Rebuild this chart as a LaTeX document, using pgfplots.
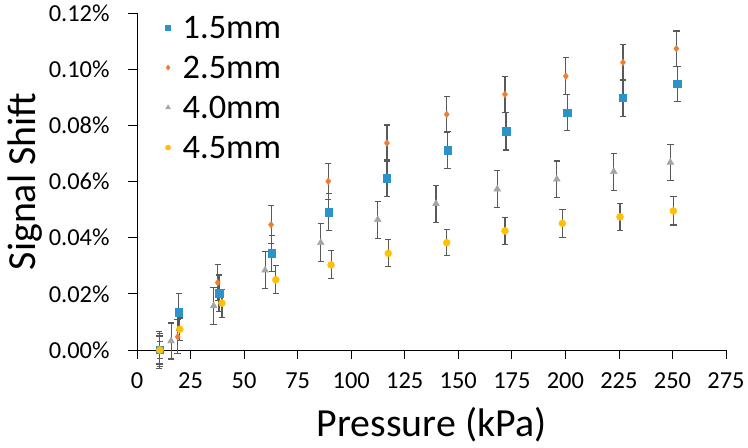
\documentclass[border=0pt]{standalone}
\usepackage{pgfplots}
\pgfplotsset{compat=1.18}
\usepackage{fontspec}
\setmainfont{Carlito}
\definecolor{cblue}{HTML}{2A93C9}
\definecolor{corange}{HTML}{ED7D31}
\definecolor{cgray}{HTML}{A5A5A5}
\definecolor{cyellow}{HTML}{FFC000}
\definecolor{errc}{HTML}{595959}
\begin{document}
\begin{tikzpicture}[x=1bp,y=1bp]
\begin{axis}[
  at={(0,0)}, anchor=south west,
  scale only axis, width=589bp, height=337bp,
  xmin=0, xmax=275, ymin=0, ymax=0.12,
  xtick={0,25,...,275},
  ytick={0,0.02,0.04,0.06,0.08,0.10,0.12},
  axis x line=bottom, axis y line=left,
  axis line style={-, black, line width=0.8bp},
  tick style={black, line width=0.8bp},
  tick align=outside, major tick length=9bp,
  /pgf/number format/assume math mode=true,
  ticklabel style={font=\fontsize{24.5}{29}\selectfont},
  yticklabel={\pgfmathprintnumber[fixed,fixed zerofill,precision=2]{\tick}\%},
  xticklabel style={yshift=-10bp},
  yticklabel style={xshift=-15bp},
  xlabel={Pressure (kPa)}, ylabel={Signal Shift},
  label style={font=\fontsize{40}{48}\selectfont},
  xlabel style={yshift=-12bp},
  ylabel style={yshift=0bp},
  legend style={draw=none, fill=none, at={(0.048,0.99)}, anchor=north west,
    font=\fontsize{34.5}{40}\selectfont, row sep=18bp, inner sep=0pt,
    nodes={inner ysep=0pt, text height=22bp, text depth=0bp},
    /tikz/every odd column/.append style={column sep=10bp}},
  legend cell align=left,
  error bars/error bar style={errc, line width=1.1bp},
  error bars/error mark options={rotate=90, errc, mark size=3.2bp, line width=1.1bp},
  clip=false,
]
\addplot[only marks, mark=square*, mark size=3.7bp, color=cblue,
  legend image post style={mark size=2.6bp},
  error bars/.cd, y dir=both, y explicit] coordinates {
(10.7,0.0000) +- (0,0.0060)
(19.5,0.0134) +- (0,0.0066)
(38.3,0.0202) +- (0,0.0065)
(63.0,0.0344) +- (0,0.0065)
(89.6,0.0491) +- (0,0.0065)
(116.7,0.0612) +- (0,0.0067)
(145.0,0.0711) +- (0,0.0066)
(172.3,0.0779) +- (0,0.0067)
(200.8,0.0846) +- (0,0.0064)
(226.9,0.0898) +- (0,0.0065)
(252.3,0.0948) +- (0,0.0063)
};
\addlegendentry{1.5mm}
\addplot[only marks, mark=diamond*, mark size=3.4bp, color=corange,
  legend image post style={mark size=2.6bp},
  error bars/.cd, y dir=both, y explicit] coordinates {
(10.5,0.0000) +- (0,0.0050)
(19.0,0.0047) +- (0,0.0060)
(37.7,0.0240) +- (0,0.0064)
(62.6,0.0446) +- (0,0.0068)
(89.3,0.0601) +- (0,0.0064)
(116.7,0.0737) +- (0,0.0064)
(144.6,0.0839) +- (0,0.0064)
(171.8,0.0910) +- (0,0.0065)
(200.2,0.0975) +- (0,0.0065)
(226.9,0.1024) +- (0,0.0065)
(251.8,0.1073) +- (0,0.0063)
};
\addlegendentry{2.5mm}
\addplot[only marks, mark=triangle*, mark size=4bp, color=cgray,
  legend image post style={mark size=2.8bp},
  error bars/.cd, y dir=both, y explicit] coordinates {
(10.3,0.0000) +- (0,0.0065)
(15.9,0.0032) +- (0,0.0064)
(35.8,0.0157) +- (0,0.0066)
(59.8,0.0284) +- (0,0.0066)
(85.8,0.0382) +- (0,0.0068)
(112.4,0.0464) +- (0,0.0066)
(139.6,0.0521) +- (0,0.0066)
(168.2,0.0573) +- (0,0.0065)
(196.0,0.0608) +- (0,0.0065)
(222.6,0.0635) +- (0,0.0066)
(249.0,0.0668) +- (0,0.0065)
};
\addlegendentry{4.0mm}
\addplot[only marks, mark=*, mark size=3.5bp, color=cyellow,
  legend image post style={mark size=2.6bp},
  error bars/.cd, y dir=both, y explicit] coordinates {
(10.7,0.0000) +- (0,0.0030)
(20.0,0.0074) +- (0,0.0040)
(39.7,0.0167) +- (0,0.0050)
(64.8,0.0250) +- (0,0.0050)
(90.6,0.0303) +- (0,0.0050)
(117.3,0.0344) +- (0,0.0048)
(144.6,0.0382) +- (0,0.0047)
(171.8,0.0424) +- (0,0.0048)
(198.6,0.0451) +- (0,0.0049)
(225.5,0.0474) +- (0,0.0048)
(250.4,0.0495) +- (0,0.0050)
};
\addlegendentry{4.5mm}
\end{axis}
\pgfresetboundingbox
\path[use as bounding box] (-137,-98) rectangle (611,350);
\end{tikzpicture}
\end{document}
